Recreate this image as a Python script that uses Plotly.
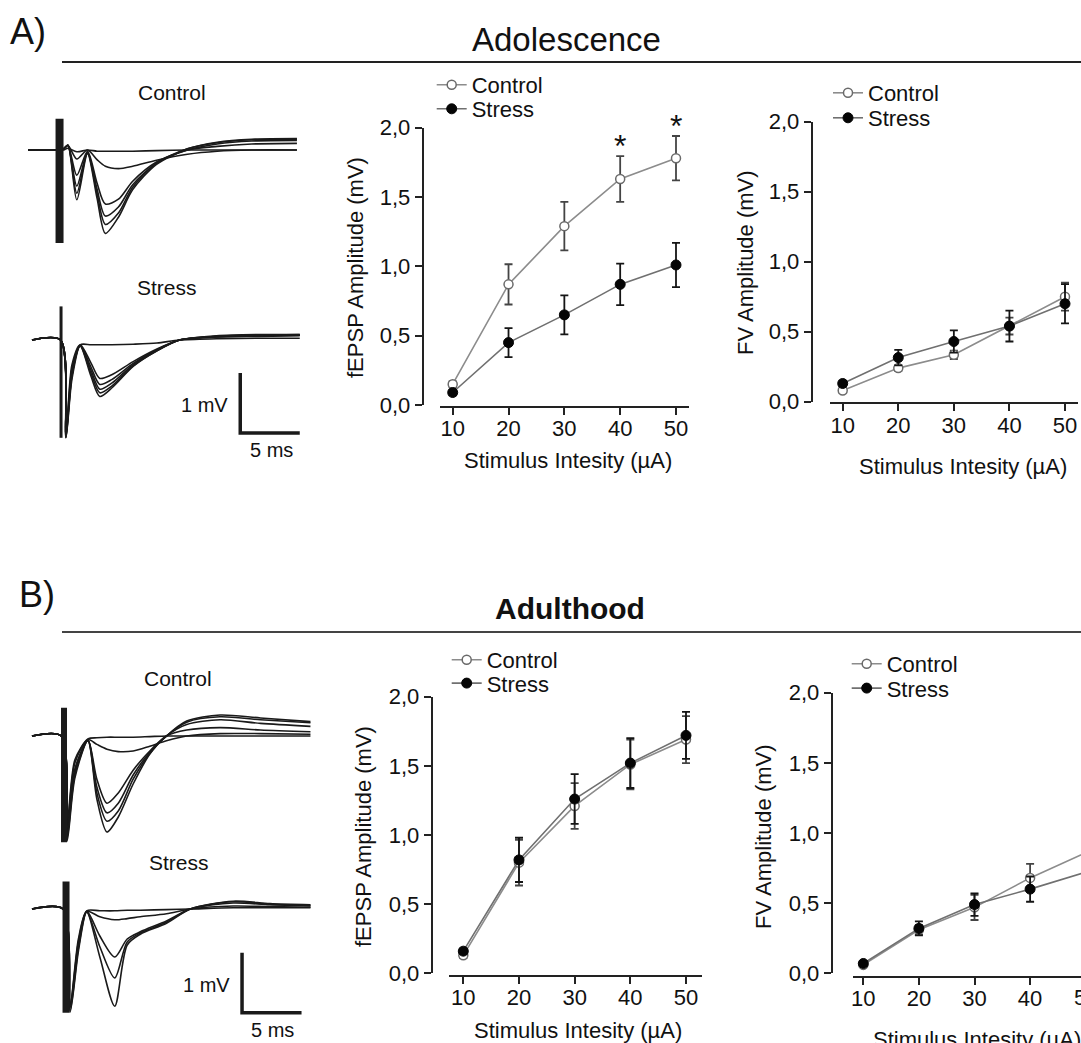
import plotly.graph_objects as go

W, H = 1081, 1043
FONT = "Liberation Sans, Arial, Helvetica, sans-serif"
INK = "#1a1a1a"

# ---------------- summary data ----------------
intensity = [10, 20, 30, 40, 50]          # Stimulus intensity (uA)
y_ticks = [0.0, 0.5, 1.0, 1.5, 2.0]
x_ticks = [10, 20, 30, 40, 50]

# Adolescence - fEPSP amplitude (mV)
adol_fepsp_ctrl = [0.15, 0.87, 1.29, 1.63, 1.78]
adol_fepsp_ctrl_sem = [0.02, 0.145, 0.175, 0.165, 0.16]
adol_fepsp_str = [0.09, 0.45, 0.65, 0.87, 1.01]
adol_fepsp_str_sem = [0.02, 0.105, 0.14, 0.15, 0.16]
# Adolescence - FV amplitude (mV)
adol_fv_ctrl = [0.08, 0.24, 0.335, 0.54, 0.75]
adol_fv_ctrl_sem = [0.015, 0.02, 0.03, 0.06, 0.10]
adol_fv_str = [0.13, 0.315, 0.43, 0.54, 0.70]
adol_fv_str_sem = [0.02, 0.055, 0.08, 0.11, 0.14]
# Adulthood - fEPSP amplitude (mV)
adult_fepsp_ctrl = [0.13, 0.80, 1.21, 1.51, 1.69]
adult_fepsp_ctrl_sem = [0.02, 0.165, 0.165, 0.18, 0.17]
adult_fepsp_str = [0.16, 0.82, 1.26, 1.52, 1.72]
adult_fepsp_str_sem = [0.02, 0.16, 0.18, 0.18, 0.17]
# Adulthood - FV amplitude (mV)
adult_fv_ctrl = [0.06, 0.31, 0.47, 0.68, 0.86]
adult_fv_ctrl_sem = [0.01, 0.035, 0.09, 0.10, 0.14]
adult_fv_str = [0.07, 0.32, 0.49, 0.60, 0.72]
adult_fv_str_sem = [0.015, 0.05, 0.08, 0.09, 0.10]

sig_intensity = [40, 50]   # significant points (adolescence fEPSP)

# ---------------- representative traces (ms, mV) ----------------
adol_ctrl_t = [0, 2.5, 3.0, 3.35, 4.1, 5.0, 5.8, 6.5, 7.6, 8.8, 10.8, 13.4, 15.9, 18.8, 22.6]
adol_ctrl_mv = [
    [0, 0, 0, 0.03, -0.03, 0, -0.02, -0.02, -0.02, -0.02, -0.01, 0, 0, 0, 0],
    [0, 0, 0.02, 0.08, -0.15, 0.0, -0.16, -0.27, -0.31, -0.27, -0.17, -0.07, -0.02, 0, 0],
    [0, 0, 0.02, 0.08, -0.42, -0.02, -0.55, -0.90, -0.82, -0.52, -0.20, 0.0, 0.06, 0.10, 0.11],
    [0, 0, 0.02, 0.08, -0.60, -0.04, -0.65, -1.10, -0.95, -0.58, -0.22, 0.0, 0.10, 0.15, 0.16],
    [0, 0, 0.02, 0.08, -0.72, -0.05, -0.72, -1.24, -1.05, -0.62, -0.22, 0.02, 0.12, 0.17, 0.18],
    [0, 0, 0.02, 0.08, -0.83, -0.06, -0.80, -1.39, -1.12, -0.66, -0.24, 0.02, 0.13, 0.18, 0.19],
]
adol_str_t = [0, 2.4, 2.85, 3.35, 4.05, 4.95, 5.7, 6.7, 8.5, 10.5, 12.4, 15.5, 19.0, 22.5]
adol_str_mv = [
    [0, 0, -1.55, -0.60, -0.08, -0.08, -0.08, -0.08, -0.07, -0.05, 0, 0.02, 0.03, 0.03],
    [0, 0, -1.58, -0.42, -0.08, -0.38, -0.64, -0.58, -0.36, -0.15, 0, 0.05, 0.06, 0.07],
    [0, 0, -1.60, -0.48, -0.09, -0.45, -0.74, -0.66, -0.39, -0.16, 0, 0.05, 0.07, 0.08],
    [0, 0, -1.62, -0.54, -0.10, -0.50, -0.82, -0.72, -0.41, -0.17, 0, 0.06, 0.08, 0.08],
    [0, 0, -1.63, -0.60, -0.10, -0.55, -0.88, -0.77, -0.43, -0.18, 0, 0.06, 0.08, 0.09],
    [0, 0, -1.63, -0.66, -0.10, -0.60, -0.94, -0.80, -0.44, -0.18, 0, 0.07, 0.09, 0.09],
]
adult_ctrl_t = [0, 2.45, 2.95, 3.6, 4.7, 5.45, 6.3, 7.25, 8.5, 9.9, 11.3, 13.0, 15.8, 19.2, 23.4]
adult_ctrl_mv = [
    [0, 0, -1.45, -0.40, -0.05, -0.03, -0.02, -0.02, -0.02, -0.01, 0, 0, 0, 0, 0],
    [0, 0, -1.50, -0.45, -0.06, -0.14, -0.22, -0.26, -0.25, -0.17, -0.08, 0.0, 0.04, 0.04, 0.03],
    [0, 0, -1.60, -0.55, -0.07, -0.72, -1.12, -0.95, -0.57, -0.25, 0, 0.10, 0.14, 0.10, 0.07],
    [0, 0, -1.65, -0.60, -0.07, -0.85, -1.28, -1.12, -0.65, -0.27, 0, 0.19, 0.27, 0.21, 0.16],
    [0, 0, -1.70, -0.65, -0.08, -0.95, -1.42, -1.25, -0.72, -0.29, 0, 0.23, 0.32, 0.27, 0.22],
    [0, 0, -1.75, -0.70, -0.08, -1.05, -1.60, -1.35, -0.80, -0.30, 0, 0.25, 0.35, 0.30, 0.24],
]
adult_str_t = [0, 2.6, 3.2, 3.9, 4.6, 5.7, 6.95, 8.0, 9.1, 11.3, 13.3, 16.9, 20.0, 23.4]
adult_str_mv = [
    [0, 0, -1.60, -0.50, -0.03, -0.03, -0.03, -0.02, -0.02, -0.01, 0, 0.02, 0.02, 0.02],
    [0, 0, -1.60, -0.55, -0.04, -0.13, -0.18, -0.16, -0.13, -0.08, 0, 0.05, 0.04, 0.03],
    [0, 0, -1.65, -0.60, -0.04, -0.45, -0.80, -0.50, -0.38, -0.20, 0, 0.10, 0.07, 0.05],
    [0, 0, -1.70, -0.65, -0.05, -0.63, -1.15, -0.55, -0.40, -0.22, 0, 0.12, 0.08, 0.06],
    [0, 0, -1.72, -0.70, -0.05, -0.80, -1.62, -0.60, -0.42, -0.24, 0, 0.13, 0.09, 0.07],
]
# stimulus artifact: time (ms), top and bottom (mV)
artifact_t = {"adol_ctrl": 2.65, "adol_str": 2.44, "adult_ctrl": 2.69, "adult_str": 2.86}
artifact_mv = {"adol_ctrl": [0.52, -1.55], "adol_str": [0.56, -1.63],
               "adult_ctrl": [0.47, -1.77], "adult_str": [0.46, -1.73]}
SCALE_MS = 5
SCALE_MV = 1

# ---------------- geometry (pixels) ----------------
MS_PX, MV_PX = 11.9, 60.0


def fx(p):
    return p / W


def fy(p):
    return 1 - p / H


plot_geom = {
    1: dict(yline=422.7, y0=405.0, y2=127.7, xline=406.7, xs=440.0, xe=689.0, x10=452.7, ppu=5.5825),
    2: dict(yline=811.7, y0=401.7, y2=121.7, xline=403.3, xs=830.0, xe=1078.0, x10=842.7, ppu=5.5575),
    3: dict(yline=431.7, y0=973.3, y2=696.7, xline=976.0, xs=449.0, xe=701.7, x10=463.3, ppu=5.5675),
    4: dict(yline=831.7, y0=973.3, y2=692.7, xline=976.7, xs=853.3, xe=1081.0, x10=863.3, ppu=5.56),
}
trace_geom = {
    5: dict(key="adol_ctrl", ox=28, oy=150, top=100, bottom=255),
    6: dict(key="adol_str", ox=32, oy=340, top=295, bottom=460),
    7: dict(key="adult_ctrl", ox=32, oy=736, top=690, bottom=850),
    8: dict(key="adult_str", ox=32, oy=909, top=865, bottom=1040),
}
trace_w = {"adol_ctrl": 8, "adol_str": 3, "adult_ctrl": 6, "adult_str": 7}
scalebar_at = {6: (17.5, -1.55), 8: (17.65, -1.73)}

CTRL_LINE = "#8c8c8c"
STR_LINE = "#707070"
CTRL_EDGE = "#6a6a6a"
CTRL_ERR = "#444444"
STR_ERR = "#151515"

fig = go.Figure()


def axname(k):
    return "" if k == 1 else str(k)


def add_group(k, ctrl, ctrl_sem, strs, strs_sem, leg_c, leg_s):
    a = axname(k)
    fig.add_trace(go.Scatter(
        x=intensity, y=ctrl, name="Control", mode="lines+markers",
        xaxis="x" + a, yaxis="y" + a, legend=leg_c, cliponaxis=False,
        line=dict(color=CTRL_LINE, width=1.6),
        marker=dict(symbol="circle", size=9, color="white", line=dict(color=CTRL_EDGE, width=1.5)),
        error_y=dict(type="data", array=ctrl_sem, visible=True, color=CTRL_ERR, thickness=1.8, width=4),
    ))
    fig.add_trace(go.Scatter(
        x=intensity, y=strs, name="Stress", mode="lines+markers",
        xaxis="x" + a, yaxis="y" + a, legend=leg_s, cliponaxis=False,
        line=dict(color=STR_LINE, width=1.6),
        marker=dict(symbol="circle", size=10, color="#050505", line=dict(color="#050505", width=1)),
        error_y=dict(type="data", array=strs_sem, visible=True, color=STR_ERR, thickness=1.8, width=4),
    ))


add_group(1, adol_fepsp_ctrl, adol_fepsp_ctrl_sem, adol_fepsp_str, adol_fepsp_str_sem, "legend", "legend2")
add_group(2, adol_fv_ctrl, adol_fv_ctrl_sem, adol_fv_str, adol_fv_str_sem, "legend3", "legend4")
add_group(3, adult_fepsp_ctrl, adult_fepsp_ctrl_sem, adult_fepsp_str, adult_fepsp_str_sem, "legend5", "legend6")
add_group(4, adult_fv_ctrl, adult_fv_ctrl_sem, adult_fv_str, adult_fv_str_sem, "legend7", "legend8")

# electrophysiology traces
trace_data = {
    "adol_ctrl": (adol_ctrl_t, adol_ctrl_mv),
    "adol_str": (adol_str_t, adol_str_mv),
    "adult_ctrl": (adult_ctrl_t, adult_ctrl_mv),
    "adult_str": (adult_str_t, adult_str_mv),
}
for k, g in trace_geom.items():
    key = g["key"]
    tt, vv = trace_data[key]
    a = str(k)
    for v in vv:
        fig.add_trace(go.Scatter(
            x=tt, y=v, mode="lines", xaxis="x" + a, yaxis="y" + a, showlegend=False,
            line=dict(color=INK, width=1.6, shape="spline", smoothing=0.8), hoverinfo="skip"))
    fig.add_trace(go.Scatter(
        x=[artifact_t[key], artifact_t[key]], y=artifact_mv[key], mode="lines",
        xaxis="x" + a, yaxis="y" + a, showlegend=False,
        line=dict(color=INK, width=trace_w[key]), hoverinfo="skip"))
    if k in scalebar_at:
        t0, v0 = scalebar_at[k]
        fig.add_trace(go.Scatter(
            x=[t0, t0, t0 + SCALE_MS], y=[v0 + SCALE_MV, v0, v0], mode="lines",
            xaxis="x" + a, yaxis="y" + a, showlegend=False,
            line=dict(color=INK, width=3.5), hoverinfo="skip"))

layout = dict(
    width=W, height=H, autosize=False,
    margin=dict(l=0, r=0, t=0, b=0, pad=0, autoexpand=False),
    paper_bgcolor="white", plot_bgcolor="rgba(0,0,0,0)",
    separators=",.", showlegend=True,
    font=dict(family=FONT, size=22, color="#111"),
)

axis_common = dict(showgrid=False, zeroline=False, showline=True, linecolor="#222", linewidth=2,
                   ticks="outside", ticklen=7, tickwidth=2, tickcolor="#222", automargin=False,
                   tickfont=dict(family=FONT, size=22, color="#111"), fixedrange=True)

for k, g in plot_geom.items():
    a = axname(k)
    xr = [10 - (g["x10"] - g["xs"]) / g["ppu"], 10 + (g["xe"] - g["x10"]) / g["ppu"]]
    layout["xaxis" + a] = dict(axis_common, domain=[fx(g["xs"]), fx(g["xe"])], range=xr,
                               anchor="free", position=fy(g["xline"]),
                               tickmode="array", tickvals=x_ticks, ticklabelstandoff=-5)
    layout["yaxis" + a] = dict(axis_common, domain=[fy(g["y0"]), fy(g["y2"])], range=[0, 2],
                               anchor="free", position=fx(g["yline"]),
                               tickmode="array", tickvals=y_ticks, tickformat=".1f")

for k, g in trace_geom.items():
    a = str(k)
    layout["xaxis" + a] = dict(visible=False, domain=[0, fx(320)], fixedrange=True,
                               range=[(0 - g["ox"]) / MS_PX, (320 - g["ox"]) / MS_PX], anchor="y" + a)
    layout["yaxis" + a] = dict(visible=False, domain=[fy(g["bottom"]), fy(g["top"])], fixedrange=True,
                               range=[(g["oy"] - g["bottom"]) / MV_PX, (g["oy"] - g["top"]) / MV_PX],
                               anchor="x" + a)


def legend_cfg(text_x, cy):
    return dict(x=fx(text_x - 40), y=fy(cy), xanchor="left", yanchor="middle",
                xref="paper", yref="paper",
                font=dict(family=FONT, size=22, color="#111"), bgcolor="rgba(0,0,0,0)",
                borderwidth=0, itemclick=False, itemdoubleclick=False)


legend_pos = {
    "legend": (471.7, 85), "legend2": (471.7, 109),
    "legend3": (868.0, 93), "legend4": (868.0, 118),
    "legend5": (486.7, 660), "legend6": (486.7, 683.3),
    "legend7": (886.7, 664), "legend8": (886.7, 688.3),
}
for name, (tx, cy) in legend_pos.items():
    layout[name] = legend_cfg(tx, cy)

annotations = []


def ann(text, x, y, size=22, bold=False, xanchor="center", angle=0, yshift=0):
    annotations.append(dict(
        text="<b>%s</b>" % text if bold else text, x=fx(x), y=fy(y), xref="paper", yref="paper",
        xanchor=xanchor, yanchor="middle", showarrow=False, textangle=angle, yshift=yshift,
        font=dict(family=FONT, size=size, color="#111")))


ann("A)", 28, 31, size=36)
ann("B)", 37, 594, size=36)
ann("Adolescence", 566, 39, size=33)
ann("Adulthood", 570, 608, size=30, bold=True)
ann("Control", 172, 92, size=21)
ann("Stress", 167, 288, size=21)
ann("Control", 178, 678, size=21)
ann("Stress", 179, 862, size=21)
ann("1 mV", 230, 405, size=20, xanchor="right")
ann("5 ms", 271, 450, size=20)
ann("1 mV", 232, 985, size=20, xanchor="right")
ann("5 ms", 272, 1030, size=20)
ann("fEPSP Amplitude (mV)", 355, 268, angle=-90)
ann("FV Amplitude (mV)", 745, 262, angle=-90)
ann("fEPSP Amplitude (mV)", 363, 837, angle=-90)
ann("FV Amplitude (mV)", 763, 837, angle=-90)
ann("Stimulus Intesity (\u00b5A)", 568, 460)
ann("Stimulus Intesity (\u00b5A)", 963, 466)
ann("Stimulus Intesity (\u00b5A)", 578, 1030)
ann("Stimulus Intesity (\u00b5A)", 977, 1039)
# tick label of the cropped 50 on the last panel
g4 = plot_geom[4]
ann("50", g4["x10"] + (50 - 10) * g4["ppu"], 997)

# significance asterisks (placed through the panel's axis scale)
g1 = plot_geom[1]
for xi in sig_intensity:
    i = intensity.index(xi)
    val = adol_fepsp_ctrl[i] + adol_fepsp_ctrl_sem[i] + 0.1
    px_x = g1["x10"] + (xi - 10) * g1["ppu"]
    px_y = g1["y0"] - val * (g1["y0"] - g1["y2"]) / 2.0
    ann("*", px_x, px_y, size=32, yshift=-4)

layout["annotations"] = annotations
layout["shapes"] = [
    dict(type="line", xref="paper", yref="paper", x0=fx(62), x1=1, y0=fy(62), y1=fy(62),
         line=dict(color="#222", width=2)),
    dict(type="line", xref="paper", yref="paper", x0=fx(62), x1=1, y0=fy(632), y1=fy(632),
         line=dict(color="#444", width=2)),
]

fig.update_layout(**layout)
fig.write_html(
    "out.html",
    config={"displayModeBar": False},
    post_script="document.documentElement.style.margin='0';document.body.style.margin='0';"
                "document.body.style.overflow='hidden';",
)
